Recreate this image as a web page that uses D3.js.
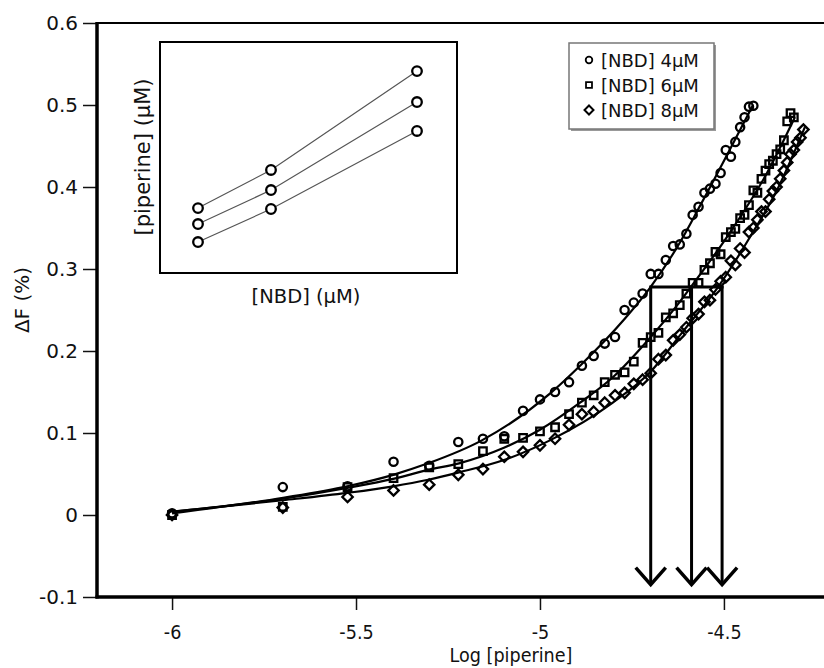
<!DOCTYPE html>
<html>
<head>
<meta charset="utf-8">
<script src="https://cdn.jsdelivr.net/npm/d3@7"></script>
<style>
html,body{margin:0;padding:0;background:#fff;}
svg{display:block;}
text{font-family:"DejaVu Sans",Verdana,sans-serif;fill:#111;}
</style>
</head>
<body>
<svg id="chart" width="824" height="668"></svg>
<script>
// ---- Data ----
const logPiperine = [-6.000,-5.699,-5.523,-5.398,-5.301,-5.222,-5.155,-5.097,-5.046,-5.000,
  -4.959,-4.921,-4.886,-4.854,-4.824,-4.796,-4.770,-4.745,-4.721,-4.699,
  -4.678,-4.658,-4.638,-4.620,-4.602,-4.585,-4.569,-4.553,-4.538,-4.523,
  -4.509,-4.495,-4.481,-4.469,-4.456,-4.444,-4.432,-4.420,-4.409,-4.398,
  -4.387,-4.377,-4.367,-4.357,-4.347,-4.337,-4.328,-4.319,-4.310,-4.301,
  -4.292,-4.284];
const seriesNames = ["[NBD] 4µM","[NBD] 6µM","[NBD] 8µM"];
const dF_NBD4 = [0.002,0.034,0.035,0.065,0.060,0.089,0.093,0.096,0.127,0.141,
  0.150,0.162,0.182,0.194,0.209,0.217,0.250,0.259,0.270,0.294,
  0.294,0.311,0.328,0.330,0.343,0.366,0.376,0.393,0.398,0.404,
  0.417,0.445,0.437,0.455,0.473,0.485,0.498,0.499];
const dF_NBD6 = [0.000,0.010,0.034,0.045,0.058,0.062,0.078,0.093,0.094,0.102,
  0.107,0.123,0.137,0.146,0.162,0.171,0.174,0.187,0.210,0.217,
  0.222,0.241,0.246,0.256,0.270,0.283,0.283,0.299,0.307,0.321,
  0.318,0.339,0.345,0.349,0.362,0.366,0.378,0.396,0.393,0.410,
  0.420,0.428,0.432,0.440,0.446,0.457,0.480,0.490,0.485];
const dF_NBD8 = [0.000,0.009,0.022,0.030,0.037,0.049,0.056,0.071,0.077,0.085,
  0.093,0.110,0.123,0.126,0.137,0.146,0.149,0.160,0.165,0.173,
  0.190,0.195,0.213,0.220,0.229,0.240,0.245,0.260,0.262,0.275,
  0.285,0.290,0.310,0.305,0.325,0.320,0.345,0.350,0.360,0.370,
  0.370,0.385,0.395,0.400,0.410,0.420,0.430,0.440,0.445,0.455,
  0.460,0.470];
// fitted curves
const fit4X = [-6,-5.698,-5.524,-5.399,-5.304,-5.158,-4.973,-4.891,-4.772,-4.701,-4.620,-4.565,-4.421];
const fit4Y = [0.002,0.021,0.035,0.049,0.063,0.091,0.148,0.182,0.238,0.277,0.332,0.377,0.500];
const fit6X = [-6,-5.698,-5.524,-5.399,-5.304,-5.220,-5.098,-5.000,-4.891,-4.802,-4.709,-4.620,-4.590,-4.492,-4.383,-4.307];
const fit6Y = [0.004,0.020,0.033,0.044,0.055,0.063,0.082,0.104,0.137,0.168,0.212,0.260,0.278,0.339,0.417,0.485];
const fit8X = [-6,-5.698,-5.524,-5.399,-5.304,-5.220,-5.098,-4.973,-4.802,-4.701,-4.611,-4.516,-4.429,-4.356,-4.280];
const fit8Y = [0.004,0.018,0.027,0.035,0.043,0.052,0.067,0.091,0.137,0.174,0.224,0.278,0.339,0.396,0.473];
// arrows (read-off positions)
const arrowX = [-4.699,-4.588,-4.505];
const arrowLevel = 0.278;
const arrowTip = -0.085;
// ticks
const yTicks = [-0.1,0,0.1,0.2,0.3,0.4,0.5,0.6];
const xTicks = [-6,-5.5,-5,-4.5];
// inset
const insetNBD = [4,6,10];
const insetA = [0.281,0.446,0.874];
const insetB = [0.212,0.359,0.740];
const insetC = [0.134,0.277,0.615];

// ---- Chart ----
const svg = d3.select("#chart");
svg.append("rect").attr("width",824).attr("height",668).attr("fill","#fff");

const x = d3.scaleLinear().domain([-6.204,-4.228]).range([97,824]);
const y = d3.scaleLinear().domain([-0.1,0.6]).range([597,23]);

const fmtY = d => d === 0 ? "0" : d3.format(".1f")(d).replace("−","-");
const fmtX = d => String(d);

// y axis
const gy = svg.append("g").attr("transform","translate(97,0)")
  .call(d3.axisLeft(y).tickValues(yTicks).tickSize(14).tickSizeOuter(0).tickPadding(6).tickFormat(fmtY));
gy.select(".domain").remove();
gy.selectAll(".tick line").attr("stroke","#111").attr("stroke-width",1.5);
gy.selectAll(".tick text").attr("font-size",20).attr("font-family","DejaVu Sans").attr("fill","#111")
  .attr("x",-19);

// x axis
const gx = svg.append("g").attr("transform","translate(0,597)")
  .call(d3.axisBottom(x).tickValues(xTicks).tickSize(13).tickSizeOuter(0).tickPadding(17).tickFormat(fmtX));
gx.select(".domain").remove();
gx.selectAll(".tick line").attr("stroke","#111").attr("stroke-width",1.5);
gx.selectAll(".tick text").attr("font-size",20).attr("font-family","DejaVu Sans").attr("fill","#111")
  .attr("y",0).attr("dy",0)
  .attr("transform","translate(0,42) scale(0.88,1)");

// frame
svg.append("line").attr("x1",97).attr("x2",824).attr("y1",y(0.6)).attr("y2",y(0.6))
  .attr("stroke","#000").attr("stroke-width",2);
svg.append("line").attr("x1",97).attr("x2",97).attr("y1",y(0.6)-1).attr("y2",y(-0.1)+1.5)
  .attr("stroke","#000").attr("stroke-width",3.5);
svg.append("line").attr("x1",95.5).attr("x2",824).attr("y1",y(-0.1)).attr("y2",y(-0.1))
  .attr("stroke","#000").attr("stroke-width",3.5);

// axis titles
svg.append("text").attr("transform","translate(29,300) rotate(-90)")
  .attr("text-anchor","middle").attr("font-size",20).text("ΔF (%)");
svg.append("text").attr("transform","translate(511,662) scale(0.88,1)")
  .attr("text-anchor","middle").attr("font-size",20).text("Log [piperine]");

// fitted lines
const line = d3.line().x(d=>x(d[0])).y(d=>y(d[1])).curve(d3.curveMonotoneX);
[[fit4X,fit4Y],[fit6X,fit6Y],[fit8X,fit8Y]].forEach(([fx,fy])=>{
  svg.append("path").datum(fx.map((v,i)=>[v,fy[i]])).attr("d",line)
    .attr("fill","none").attr("stroke","#000").attr("stroke-width",2.2);
});

// markers
const sym4 = d3.symbol().type(d3.symbolCircle).size(54);
const sym6 = d3.symbol().type(d3.symbolSquare).size(56);
const diamondPath = "M0,-5.2L5.2,0L0,5.2L-5.2,0Z";
function drawSeries(vals, pathStr, cls){
  svg.append("g").selectAll("path").data(vals).join("path")
    .attr("class",cls)
    .attr("transform",(d,i)=>`translate(${x(logPiperine[i])},${y(d)})`)
    .attr("d",pathStr).attr("fill","none").attr("stroke","#000").attr("stroke-width",2.3);
}
drawSeries(dF_NBD8, diamondPath, "s8");
drawSeries(dF_NBD6, sym6(), "s6");
drawSeries(dF_NBD4, sym4(), "s4");

// arrows
svg.append("line").attr("x1",x(arrowX[0])).attr("x2",x(arrowX[2])+1.5)
  .attr("y1",y(arrowLevel)).attr("y2",y(arrowLevel)).attr("stroke","#000").attr("stroke-width",3);
arrowX.forEach(ax=>{
  const px = x(ax);
  svg.append("line").attr("x1",px).attr("x2",px).attr("y1",y(arrowLevel)-1.5).attr("y2",y(arrowTip)-1)
    .attr("stroke","#000").attr("stroke-width",3);
  svg.append("path").attr("d",`M${px-15},${y(arrowTip)-17}L${px},${y(arrowTip)}L${px+15},${y(arrowTip)-17}`)
    .attr("fill","none").attr("stroke","#000").attr("stroke-width",3.5).attr("stroke-linejoin","miter");
});

// legend
const lg = svg.append("g");
lg.append("rect").attr("x",571).attr("y",45).attr("width",145).attr("height",86).attr("fill","#999");
lg.append("rect").attr("x",569).attr("y",43).attr("width",145).attr("height",86)
  .attr("fill","#fff").attr("stroke","#777").attr("stroke-width",1.5);
const legSyms = [sym4(), sym6(), "M0,-5L5,0L0,5L-5,0Z"];
seriesNames.forEach((n,i)=>{
  const cy = 60 + i*25;
  lg.append("path").attr("d",legSyms[i])
    .attr("fill","none").attr("stroke","#000").attr("stroke-width",2.2)
    .attr("transform",`translate(589,${cy}) scale(${i===2?0.9:0.8})`);
  lg.append("text").attr("x",601).attr("y",cy+7).attr("font-size",18).text(n);
});

// inset
const ix = d3.scaleLinear().domain([4,10]).range([198,417]);
const iy = d3.scaleLinear().domain([0,1]).range([273,42]);
svg.append("rect").attr("x",160).attr("y",42).attr("width",297).attr("height",231)
  .attr("fill","#fff").attr("stroke","#000").attr("stroke-width",2);
const iline = d3.line().x((d,i)=>ix(insetNBD[i])).y(d=>iy(d));
[insetA,insetB,insetC].forEach(s=>{
  svg.append("path").datum(s).attr("d",iline).attr("fill","none").attr("stroke","#555").attr("stroke-width",1.2);
  svg.append("g").selectAll("circle").data(s).join("circle")
    .attr("cx",(d,i)=>ix(insetNBD[i])).attr("cy",d=>iy(d)).attr("r",4.8)
    .attr("fill","#fff").attr("stroke","#000").attr("stroke-width",2.3);
});
svg.append("text").attr("x",306).attr("y",303).attr("text-anchor","middle")
  .attr("font-family","Open Sans").attr("font-size",19.5).text("[NBD] (µM)");
svg.append("text").attr("transform","translate(150,157) rotate(-90)").attr("text-anchor","middle")
  .attr("font-family","Open Sans").attr("font-size",21).text("[piperine] (µM)");
</script>
</body>
</html>
